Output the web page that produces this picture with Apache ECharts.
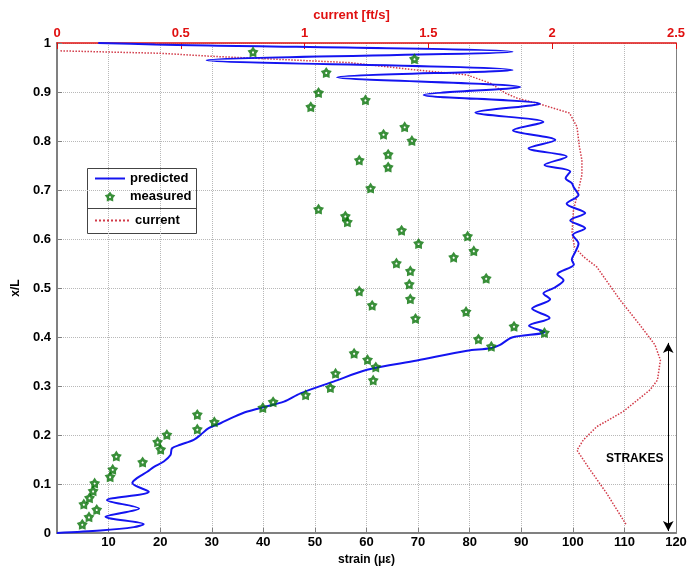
<!DOCTYPE html>
<html>
<head>
<meta charset="utf-8">
<script src="https://cdn.jsdelivr.net/npm/echarts@6/dist/echarts.min.js"></script>
<style>
  html, body { margin: 0; padding: 0; background: #fff; }
  #main { width: 699px; height: 569px; }
</style>
</head>
<body>
<div id="main"></div>
<script>
// predicted strain along the riser, [strain, x/L]
var predicted = [
  [0, 0], [8.4, 0.005], [14.9, 0.012], [16.8, 0.018], [9.4, 0.033], [15.9, 0.050],
  [9.7, 0.067], [17.8, 0.084], [14.6, 0.102], [15.5, 0.112], [17.5, 0.125], [18.8, 0.135],
  [20.7, 0.146], [22.0, 0.159], [22.3, 0.173], [23.9, 0.180], [26.5, 0.190], [27.8, 0.200],
  [29.4, 0.214], [31.7, 0.224], [34.3, 0.237], [36.9, 0.248], [40.5, 0.258], [44.0, 0.268],
  [47.2, 0.285], [53.6, 0.309], [60.1, 0.333], [69.8, 0.352], [79.5, 0.372], [84.0, 0.377],
  [85.9, 0.384], [88.2, 0.399], [94.5, 0.410], [91.5, 0.423], [95.5, 0.439], [92.1, 0.458],
  [95.6, 0.477], [94.3, 0.489], [96.3, 0.500], [98.2, 0.516], [97.0, 0.528], [100.2, 0.548],
  [99.8, 0.558], [100.5, 0.574], [101.1, 0.591], [100.0, 0.608], [102.4, 0.622], [99.5, 0.638],
  [102.4, 0.653], [98.8, 0.672], [101.1, 0.690], [100.2, 0.705], [99.8, 0.714], [98.6, 0.724],
  [99.5, 0.738], [94.5, 0.751], [98.8, 0.768], [91.4, 0.785], [96.6, 0.802], [88.4, 0.822],
  [94.3, 0.839], [81.1, 0.858], [93.6, 0.876], [71.1, 0.894], [89.8, 0.910], [54.3, 0.930],
  [88.3, 0.945], [29.0, 0.965], [88.3, 0.982], [19, 0.997], [8, 1.0]
];

// measured strain, [strain, x/L]
var measured = [
  [38.0, 0.982], [69.3, 0.968], [52.2, 0.940], [50.7, 0.899], [49.2, 0.870], [59.8, 0.884],
  [67.4, 0.829], [63.3, 0.814], [68.8, 0.801], [64.2, 0.773], [64.2, 0.747], [58.6, 0.761],
  [60.8, 0.704], [50.7, 0.661], [55.9, 0.647], [56.3, 0.635], [66.8, 0.618], [70.1, 0.591],
  [79.6, 0.606], [80.8, 0.576], [76.9, 0.563], [65.8, 0.551], [68.5, 0.535], [83.2, 0.520],
  [68.3, 0.508], [58.6, 0.494], [68.5, 0.478], [61.1, 0.465], [79.3, 0.452], [69.5, 0.438],
  [88.6, 0.422], [81.7, 0.396], [84.2, 0.381], [94.5, 0.409], [57.6, 0.367], [60.2, 0.354],
  [61.8, 0.339], [61.3, 0.312], [54.0, 0.326], [53.0, 0.297], [48.2, 0.282], [41.9, 0.268],
  [39.9, 0.256], [30.5, 0.227], [27.2, 0.242], [27.2, 0.212], [21.3, 0.201], [19.5, 0.186],
  [20.1, 0.171], [16.6, 0.145], [11.5, 0.157], [10.8, 0.130], [10.3, 0.115], [7.3, 0.102],
  [7.0, 0.086], [6.3, 0.072], [5.2, 0.059], [7.7, 0.048], [6.2, 0.033], [4.9, 0.018]
];

// current profile, [ft/s, x/L]
var current = [
  [0.014, 0.984], [0.418, 0.979], [0.62, 0.973], [1.18, 0.960], [1.45, 0.945], [1.655, 0.935],
  [1.75, 0.918], [1.81, 0.898], [1.86, 0.887], [1.94, 0.877], [2.07, 0.857], [2.10, 0.829],
  [2.11, 0.788], [2.12, 0.761], [2.12, 0.731], [2.106, 0.700], [2.086, 0.659], [2.08, 0.612],
  [2.09, 0.584], [2.126, 0.564], [2.18, 0.543], [2.275, 0.475], [2.355, 0.424], [2.415, 0.384],
  [2.437, 0.353], [2.425, 0.312], [2.395, 0.292], [2.287, 0.248], [2.18, 0.217], [2.126, 0.190],
  [2.10, 0.169], [2.153, 0.129], [2.22, 0.081], [2.30, 0.016]
];

// strake zone arrow and label
var strakeSpan = [[118.5, 0.004], [118.5, 0.388]];
var strakeLabel = [112, 0.152];

// chunky star with a small hole in the middle
var starPath = 'path://M0,-10 L3.53,-4.85 L9.51,-3.09 L5.71,1.85 L5.88,8.09 L0,6 L-5.88,8.09 L-5.71,1.85 L-9.51,-3.09 L-3.53,-4.85 Z ' +
  'M0,-2 L-1.9,-0.62 L-1.18,1.62 L1.18,1.62 L1.9,-0.62 Z';
var font = 'Liberation Sans';
var gridLine = { show: true, lineStyle: { color: '#b8b8b8', type: 'dotted', width: 1 } };
var legendText = { fontFamily: font, fontWeight: 'bold', fontSize: 13, color: '#000' };

var chart = echarts.init(document.getElementById('main'));

chart.setOption({
  animation: false,
  grid: { left: 57, right: 23, top: 43, bottom: 36, outerBoundsMode: 'none', containLabel: false },
  legend: [
    {
      left: 89, top: 167, orient: 'vertical', itemGap: 5,
      itemWidth: 30, itemHeight: 10, textStyle: legendText,
      data: [{ name: 'predicted', itemStyle: { opacity: 0 } }, 'measured']
    },
    {
      left: 89, top: 209, itemWidth: 35, itemHeight: 10, textStyle: legendText,
      data: [{ name: 'current', itemStyle: { opacity: 0 } }]
    }
  ],
  graphic: [
    { type: 'rect', left: 85, top: 166, shape: { width: 109, height: 65 },
      style: { fill: 'none', stroke: '#444', lineWidth: 1 } },
    { type: 'line', left: 85, top: 206, shape: { x1: 0, y1: 0, x2: 109, y2: 0 },
      style: { stroke: '#444', lineWidth: 1 } }
  ],
  xAxis: [
    {
      type: 'value', position: 'bottom', min: 0, max: 120, interval: 10,
      name: 'strain (\u03bc\u03b5)', nameLocation: 'middle', nameGap: 16,
      nameTextStyle: { fontFamily: font, fontWeight: 'bold', fontSize: 12, color: '#000' },
      axisLine: { onZero: false, lineStyle: { color: '#808080', width: 2 } },
      axisTick: { inside: true, length: 5, lineStyle: { color: '#808080' } },
      axisLabel: { showMinLabel: false, fontFamily: font, fontWeight: 'bold', fontSize: 13, color: '#000', margin: 3 },
      splitLine: gridLine
    },
    {
      type: 'value', position: 'top', min: 0, max: 2.5, interval: 0.5,
      name: 'current [ft/s]', nameLocation: 'middle', nameGap: 16,
      nameTextStyle: { fontFamily: font, fontWeight: 'bold', fontSize: 13, color: '#e01010', padding: [0, 30, 0, 0] },
      axisLine: { onZero: false, lineStyle: { color: '#e01010', width: 1.5 } },
      axisTick: { inside: true, length: 6, lineStyle: { color: '#e01010' } },
      axisLabel: { fontFamily: font, fontWeight: 'bold', fontSize: 13, color: '#e01010', margin: 3 },
      splitLine: { show: false }
    }
  ],
  yAxis: [
    {
      type: 'value', min: 0, max: 1, interval: 0.1,
      name: 'x/L', nameLocation: 'middle', nameGap: 24,
      nameTextStyle: { fontFamily: font, fontWeight: 'bold', fontSize: 12, color: '#000' },
      axisLine: { show: true, onZero: false, lineStyle: { color: '#808080', width: 2 } },
      axisTick: { show: true, inside: true, length: 5, lineStyle: { color: '#808080' } },
      axisLabel: { fontFamily: font, fontWeight: 'bold', fontSize: 13, color: '#000', margin: 6 },
      splitLine: gridLine
    },
    {
      type: 'value', position: 'right', min: 0, max: 1, interval: 0.1,
      axisLine: { show: true, onZero: false, lineStyle: { color: '#808080', width: 1 } },
      axisTick: { show: false }, axisLabel: { show: false }, splitLine: { show: false }
    }
  ],
  series: [
    {
      name: 'predicted', type: 'line', xAxisIndex: 0, yAxisIndex: 0,
      data: predicted, showSymbol: false, smooth: 0.3,
      lineStyle: { color: '#1414f0', width: 2 }, itemStyle: { color: '#1414f0' },
      z: 3
    },
    {
      name: 'measured', type: 'scatter', xAxisIndex: 0, yAxisIndex: 0,
      data: measured, symbol: starPath, symbolSize: 11,
      itemStyle: { color: '#087308' },
      z: 4
    },
    {
      name: 'current', type: 'line', xAxisIndex: 1, yAxisIndex: 0,
      data: current, showSymbol: false,
      lineStyle: { color: '#d23a48', width: 1.5, type: 'dotted' }, itemStyle: { color: '#d23a48' },
      z: 2
    },
    {
      type: 'line', xAxisIndex: 0, yAxisIndex: 0, data: [], silent: true,
      markLine: {
        silent: true, symbol: ['arrow', 'arrow'], symbolSize: [8, 10],
        lineStyle: { color: '#000', type: 'solid', width: 1 },
        label: { show: false },
        data: [[{ coord: strakeSpan[0] }, { coord: strakeSpan[1] }]]
      },
      markPoint: {
        silent: true, symbol: 'rect', symbolSize: 1, itemStyle: { color: 'rgba(0,0,0,0)' },
        label: { show: true, position: 'inside', formatter: 'STRAKES',
          fontFamily: font, fontWeight: 'bold', fontSize: 12, color: '#000' },
        data: [{ coord: strakeLabel }]
      }
    }
  ]
});
</script>
</body>
</html>
